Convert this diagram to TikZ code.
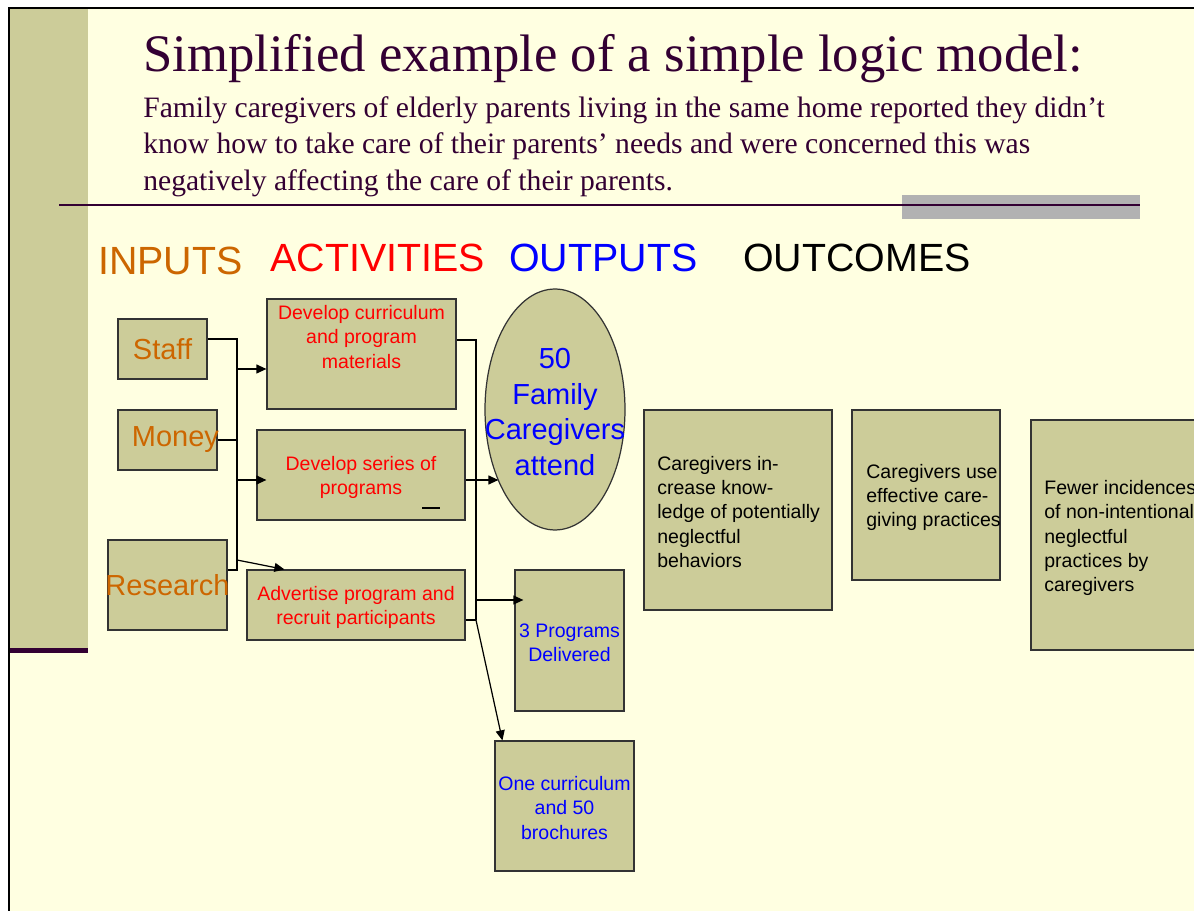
\documentclass[tikz,border=0pt]{standalone}
\usepackage{fontspec}
\setmainfont{Liberation Serif}
\newfontfamily\arialfont{Liberation Sans}
\usetikzlibrary{shapes.geometric,arrows.meta,calc}
\definecolor{slidebg}{HTML}{FFFFE1}
\definecolor{khaki}{HTML}{CCCC99}
\definecolor{plum}{HTML}{330033}
\definecolor{inorange}{HTML}{CC6600}
\definecolor{greybar}{HTML}{B2B2B2}
\definecolor{boxline}{HTML}{333333}
\begin{document}
\begin{tikzpicture}[x=0.02cm,y=-0.02cm,
  box/.style={rectangle, draw=boxline, line width=0.7pt, fill=khaki, inner sep=0pt},
  intext/.style={text=inorange, font=\arialfont\fontsize{16.5}{20}\selectfont},
  acttext/.style={text=red, align=center, inner sep=0pt, font=\arialfont\fontsize{11.1}{13.7}\selectfont},
  outtext/.style={text=blue, align=center, inner sep=0pt, font=\arialfont\fontsize{11.1}{13.7}\selectfont},
  restext/.style={text=black, align=left, anchor=west, inner sep=0pt, font=\arialfont\fontsize{11.1}{13.7}\selectfont},
  head/.style={anchor=base west, inner sep=0pt, font=\arialfont\fontsize{22.4}{26}\selectfont},
  conn/.style={draw=black, line width=0.7pt},
  arr/.style={conn, -{Triangle[length=5.7pt,width=5.1pt]}}]
\useasboundingbox (0,0) rectangle (1194,911);
% slide background
\fill[white] (0,0) rectangle (1194,911);
\fill[slidebg] (9,8) rectangle (1194,911);
\fill[khaki] (10,9) rectangle (88,648);
\fill[plum] (10,648) rectangle (88,653);
\draw[black, line width=1.4pt] (9,911) -- (9,8) -- (1194,8);
% rule
\fill[greybar] (902,195) rectangle (1140,219);
\draw[plum, line width=1.4pt] (59,205) -- (1140,205);
% title
\node[anchor=base west, inner sep=0pt, text=plum, font=\fontsize{30}{36}\selectfont] (title) at (143,72) {Simplified example of a simple logic model:};
\node[anchor=north west, inner sep=0pt, align=left, text=plum, font=\fontsize{16.85}{20.8}\selectfont] (subtitle) at (143,96) {Family caregivers of elderly parents living in the same home reported they didn’t\\know how to take care of their parents’ needs and were concerned this was\\negatively affecting the care of their parents.};
% headings
\node[head, text=inorange] (hin) at (98,275) {INPUTS};
\node[head, text=red] (hact) at (270,272) {ACTIVITIES};
\node[head, text=blue] (hout) at (509,272) {OUTPUTS};
\node[head, text=black] (hres) at (743,272) {OUTCOMES};
% inputs
\node[box, intext, minimum width=1.78cm, minimum height=1.2cm] (staff) at (162.5,349) {Staff};
\node[box, intext, minimum width=1.98cm, minimum height=1.2cm] (money) at (167.5,440) {\makebox[0pt]{\hspace{9pt}Money}};
\node[box, intext, minimum width=2.38cm, minimum height=1.8cm] (research) at (167.5,585) {\makebox[0pt]{\raisebox{-1pt}{Research}}};
% activities
\node[box, minimum width=3.78cm, minimum height=2.2cm] (devcur) at (361.5,354) {};
\node[acttext] (devcurT) at (361.5,337) {Develop curriculum\\and program\\materials};
\node[box, minimum width=4.16cm, minimum height=1.8cm] (devser) at (361,475) {};
\node[acttext] (devserT) at (361,477) {Develop series of\\programs};
\draw[black, line width=1.1pt] (422,508) -- (440,508);
\node[box, minimum width=4.36cm, minimum height=1.4cm] (advert) at (356,605) {};
\node[acttext] (advertT) at (356,607.5) {Advertise program and\\recruit participants};
% outputs
\node[ellipse, draw=boxline, line width=0.7pt, fill=khaki, inner sep=0pt, minimum width=2.8cm, minimum height=4.82cm] (ell) at (555,409.5) {};
\node[text=blue, align=center, inner sep=0pt, font=\arialfont\fontsize{16.5}{20.3}\selectfont] (ellT) at (555,412) {50\\Family\\Caregivers\\attend};
\node[box, minimum width=2.18cm, minimum height=2.82cm] (prog3) at (569.5,640.5) {};
\node[outtext] (prog3T) at (569.5,643) {3 Programs\\Delivered};
\node[box, minimum width=2.78cm, minimum height=2.6cm] (onecur) at (564.5,806) {};
\node[outtext] (onecurT) at (564.5,808) {One curriculum\\and 50\\brochures};
% outcomes
\node[box, minimum width=3.76cm, minimum height=4cm] (res1) at (738,510) {};
\node[restext] (res1T) at (657,512) {Caregivers in-\\crease know-\\ledge of potentially\\neglectful\\behaviors};
\node[box, minimum width=2.96cm, minimum height=3.4cm] (res2) at (926,495) {};
\node[restext] (res2T) at (866,497.5) {Caregivers use\\effective care-\\giving practices};
\node[box, minimum width=3.78cm, minimum height=4.6cm] (res3) at (1125.5,535) {};
\node[restext] (res3T) at (1044,538) {Fewer incidences\\of non-intentional\\neglectful\\practices by\\caregivers};
% connectors: inputs to activities
\coordinate (busT) at (237,339);
\coordinate (busB) at (237,570);
\coordinate (busA) at (237,560);
\draw[conn] ($(staff.east)+(0,-10)$) -- (busT) -- (busB) -- ($(research.east)+(0,-15)$);
\draw[conn] (money.east) -- (money.east -| busT);
\coordinate (dcIn) at ($(devcur.west)+(0,15)$);
\draw[arr] (dcIn -| busT) -- (dcIn);
\coordinate (dsIn) at ($(devser.west)+(10,5)$);
\draw[arr] (dsIn -| busT) -- (dsIn);
\draw[arr] (busA) -- ($(advert.north west)+(38,0)$);
% activities to outputs
\coordinate (rbT) at (476,340);
\coordinate (rbB) at (476,620);
\coordinate (rbP) at (476,600);
\draw[conn] ($(devcur.east)+(0,-14)$) -- (rbT) -- (rbB);
\draw[conn] ($(advert.east)+(0,15)$) -- (rbB);
\coordinate (dsOut) at ($(devser.east)+(0,5)$);
\draw[arr] (dsOut) -- (dsOut -| ell.232);
\draw[arr] (rbP) -- ($(prog3.west)+(9,-40.5)$);
\draw[arr] (rbB) -- ($(onecur.north west)+(8,0)$);
\end{tikzpicture}
\end{document}
